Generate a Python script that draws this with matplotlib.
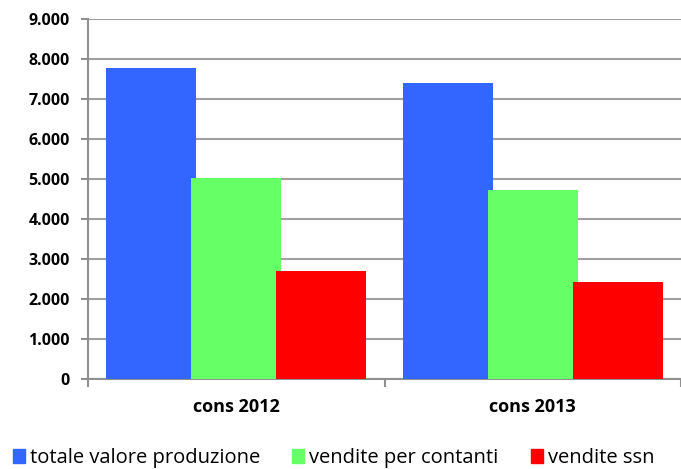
import matplotlib.pyplot as plt
import numpy as np
from matplotlib.patches import Patch

categories = ["cons 2012", "cons 2013"]
series = ["totale valore produzione", "vendite per contanti", "vendite ssn"]
totale = [7775, 7410]
contanti = [5025, 4725]
ssn = [2700, 2420]
colors = ["#3366ff", "#66ff66", "#ff0000"]
yticks = [0, 1000, 2000, 3000, 4000, 5000, 6000, 7000, 8000, 9000]
ytick_labels = ["0", "1.000", "2.000", "3.000", "4.000", "5.000", "6.000", "7.000", "8.000", "9.000"]

plt.rcParams['font.family'] = ['Open Sans', 'DejaVu Sans']

fig = plt.figure(figsize=(6.81, 4.69), dpi=100)
W, H = 681, 469
ax = fig.add_axes([88 / W, (H - 379) / H, 593 / W, 360 / H])

centers = np.arange(len(categories)) + 0.5
width = 91 / 300
step = 86 / 300
for i, vals in enumerate([totale, contanti, ssn]):
    ax.bar(centers + (i - 1) * step, vals, width=width, color=colors[i], zorder=3 + i)

ax.set_xlim(0, 593 / 300)
ax.set_ylim(0, 9000)
ax.set_yticks(yticks)
ax.set_yticklabels(ytick_labels, fontsize=11.5, fontweight='bold')
ax.yaxis.grid(True, color='#a0a0a0', linewidth=1.5, zorder=0)
ax.set_axisbelow(True)

ax.set_xticks([0, 1, 2])
ax.set_xticklabels([])
ax.set_xticks(centers, minor=True)
ax.set_xticklabels(categories, minor=True, fontsize=13, fontweight='bold')
ax.tick_params(axis='x', which='minor', length=0, pad=14)
ax.tick_params(axis='x', which='major', length=6, width=1.5, color='#909090')
ax.tick_params(axis='y', length=5, width=1.5, color='#909090', pad=8)

for s in ['top', 'right']:
    ax.spines[s].set_visible(False)
for s in ['left', 'bottom']:
    ax.spines[s].set_color('#909090')
    ax.spines[s].set_linewidth(1.5)

handles = [Patch(color=c, label=l) for c, l in zip(colors, series)]
fig.legend(handles=handles, loc='lower left', bbox_to_anchor=(-0.008, -0.036), ncol=3,
           frameon=False, fontsize=14.5, handlelength=0.6, handleheight=0.7,
           handletextpad=0.25, columnspacing=1.6)

fig.savefig("out.png", dpi=100)
